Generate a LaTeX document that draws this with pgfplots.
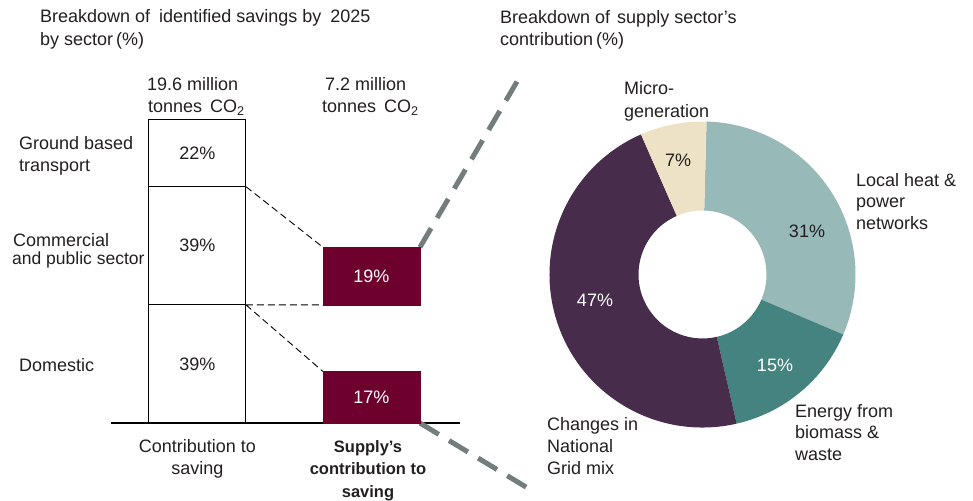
\documentclass[border=0pt]{standalone}
\usepackage{fontspec}
\setmainfont{Liberation Sans}
\usepackage{pgfplots}
\pgfplotsset{compat=1.18}

\definecolor{txt}{RGB}{35,31,32}
\definecolor{supplyred}{RGB}{110,0,45}
\definecolor{cLocal}{RGB}{151,185,184}
\definecolor{cBio}{RGB}{68,131,127}
\definecolor{cGrid}{RGB}{71,44,75}
\definecolor{cMicro}{RGB}{237,226,197}
\definecolor{zoomgray}{RGB}{115,125,125}

% same frame for all bar layers: category 0 = contribution, 1 = supply
\pgfplotsset{barframe/.style={
    at={(111bp,78bp)}, anchor=south west, scale only axis,
    width=349bp, height=303bp,
    xmin=-0.497, xmax=1.509, ymin=0, ymax=100,
    hide axis, clip=false, ybar stacked, bar width=97bp}}

% text line with its baseline at pixel (x,y) of the 973x501 image
\newcommand{\lbl}[4][base west]{\node[anchor=#1,inner sep=0pt] at (#2bp,{(501-#3)*1bp}) {#4};}

\begin{document}
\begin{tikzpicture}[font=\fontsize{18bp}{22bp}\selectfont, text=txt]
\useasboundingbox (0,0) rectangle (973bp,501bp);

% sector shares of the 19.6 Mt
\begin{axis}[barframe]
\addplot[fill=white, draw=black, line width=1bp] coordinates {(0,39)};
\addplot[fill=white, draw=black, line width=1bp] coordinates {(0,39)};
\addplot[fill=white, draw=black, line width=1bp] coordinates {(0,22)};
\draw[line width=1.2bp] (axis cs:-0.497,0) -- (axis cs:1.509,0);
\end{axis}

% supply's part inside domestic and commercial
\begin{axis}[barframe]
\addplot[fill=supplyred, draw=supplyred] coordinates {(1,17)};
\addplot[fill=none, draw=none] coordinates {(1,22)};
\addplot[fill=supplyred, draw=supplyred] coordinates {(1,19)};
\draw[dash pattern=on 7bp off 4bp, line width=0.9bp]
  (axis cs:0.2787,78) -- (axis cs:0.7213,58)
  (axis cs:0.2787,39) -- (axis cs:0.7213,39)
  (axis cs:0.2787,39) -- (axis cs:0.7213,17);
\draw[zoomgray, line width=5bp, dash pattern=on 22bp off 12bp]
  (axis cs:1.2787,58) -- (axis cs:1.842,113.2);
\draw[zoomgray, line width=5bp, dash pattern=on 22bp off 12bp]
  (axis cs:1.2787,0) -- (axis cs:1.899,-21.5);
\end{axis}

% value labels on top of the bars
\begin{axis}[barframe]
\node at (axis cs:0,19.5) {39\%};
\node at (axis cs:0,58.5) {39\%};
\node at (axis cs:0,89) {22\%};
\node[text=white] at (axis cs:1,8.5) {17\%};
\node[text=white] at (axis cs:1,48.5) {19\%};
\end{axis}

% breakdown of supply sector's contribution
\begin{axis}[at={(549.5bp,73.5bp)}, anchor=south west, scale only axis,
    width=306bp, height=306bp, xmin=-1, xmax=1, ymin=-1, ymax=1,
    hide axis, clip=false]
\def\angStart{88.5}
\foreach \v/\c in {31/cLocal,15/cBio,47/cGrid,7/cMicro}{
  \pgfmathsetmacro\angEnd{\angStart-3.6*\v}
  \edef\temp{\noexpand\fill[\c] ([shift={(\angStart:153bp)}]axis cs:0,0)
    arc[start angle=\angStart,end angle=\angEnd,radius=153bp]
    -- ([shift={(\angEnd:64bp)}]axis cs:0,0)
    arc[start angle=\angEnd,end angle=\angStart,radius=64bp] -- cycle;}
  \temp
  \xdef\angStart{\angEnd}
}
\end{axis}

% titles
\lbl{40}{23}{Breakdown of\hspace{4bp} identified savings by\hspace{4bp} 2025}
\lbl{40}{46}{by sector\hspace{-2bp} (\%)}
\lbl{500}{24}{Breakdown of\hspace{2bp} supply sector’s}
\lbl{500}{46}{contribution\hspace{-2bp} (\%)}

% column headers
\lbl{147}{91}{19.6 million}
\lbl{148}{113}{tonnes\, CO\textsubscript{2}}
\lbl{325}{91}{7.2 million}
\lbl{322}{113}{tonnes\, CO\textsubscript{2}}

% sectors
\lbl{19}{149}{Ground based}
\lbl{19}{171}{transport}
\lbl{13}{246}{Commercial}
\lbl{12}{264}{\fontsize{17.5bp}{20bp}\selectfont and public sector}
\lbl{19}{371}{Domestic}

% bottom labels
\lbl[base]{197.5}{452}{Contribution to}
\lbl[base]{197.5}{474}{saving}
\lbl[base]{368}{452}{\bfseries\fontsize{16.5bp}{20bp}\selectfont Supply’s}
\lbl[base]{368}{474}{\bfseries\fontsize{16.5bp}{20bp}\selectfont contribution to}
\lbl[base]{368}{497}{\bfseries\fontsize{16.5bp}{20bp}\selectfont saving}

% donut values
\lbl[base]{678}{166}{7\%}
\lbl[base]{807}{237}{31\%}
\lbl[base]{595}{306}{\color{white}47\%}
\lbl[base]{775}{371}{\color{white}15\%}

% donut categories
\lbl{624}{95}{Micro-}
\lbl{624}{117}{generation}
\lbl{856}{186}{Local heat \&}
\lbl{856}{207}{power}
\lbl{856}{229}{networks}
\lbl{795}{417}{Energy from}
\lbl{795}{438}{biomass \&}
\lbl{795}{460}{waste}
\lbl{547}{430}{Changes in}
\lbl{547}{452}{National}
\lbl{547}{474}{Grid mix}
\end{tikzpicture}
\end{document}
